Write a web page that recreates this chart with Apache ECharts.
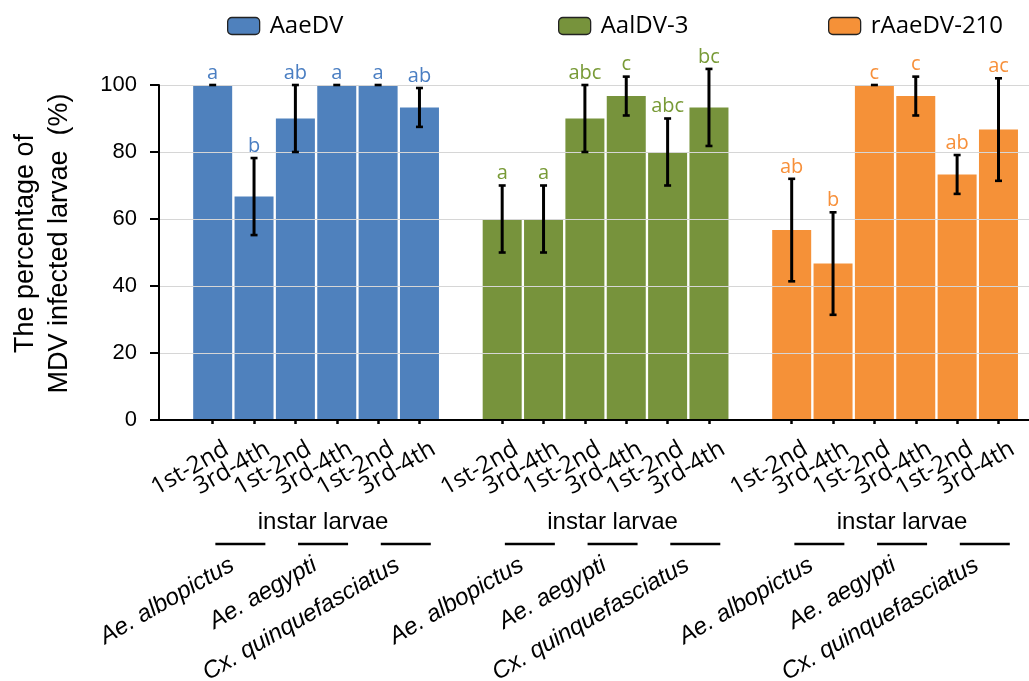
<!DOCTYPE html>
<html>
<head>
<meta charset="utf-8">
<script src="https://cdn.jsdelivr.net/npm/echarts@6/dist/echarts.min.js"></script>
<style>html,body{margin:0;padding:0;background:#fff;}#c{width:1029px;height:681px;}</style>
</head>
<body>
<div id="c"></div>
<script>
// ---- data ----
const seriesNames = ['AaeDV', 'AalDV-3', 'rAaeDV-210'];
const instars = ['1st-2nd', '3rd-4th'];
const species = ['Ae. albopictus', 'Ae. aegypti', 'Cx. quinquefasciatus'];
const groupNote = 'instar larvae';
const yTicks = [0, 20, 40, 60, 80, 100];

const aaeDV = [100, 66.7, 90, 100, 100, 93.3];
const aaeDVErr = [0, 11.5, 10, 0, 0, 5.8];
const aaeDVSig = ['a', 'b', 'ab', 'a', 'a', 'ab'];

const aalDV3 = [60, 60, 90, 96.7, 80, 93.3];
const aalDV3Err = [10, 10, 10, 5.8, 10, 11.5];
const aalDV3Sig = ['a', 'a', 'abc', 'c', 'abc', 'bc'];

const rAaeDV210 = [56.7, 46.7, 100, 96.7, 73.3, 86.7];
const rAaeDV210Err = [15.3, 15.3, 0, 5.8, 5.8, 15.3];
const rAaeDV210Sig = ['ab', 'b', 'c', 'c', 'ab', 'ac'];

const colors = ['#4F81BD', '#77933C', '#F59138'];
const sigColors = ['#4A7EC2', '#789A36', '#F7903A'];

// ---- build category slots (6 bars, blank, 6 bars, blank, 6 bars) ----
const xLabels = [];
for (let g = 0; g < 3; g++) {
  for (let s = 0; s < species.length; s++) for (let k = 0; k < instars.length; k++) xLabels.push(instars[k]);
  if (g < 2) xLabels.push('');
}
const slot = (g, k) => g * 7 + k;

const groups = [
  {vals: aaeDV, errs: aaeDVErr, sig: aaeDVSig},
  {vals: aalDV3, errs: aalDV3Err, sig: aalDV3Sig},
  {vals: rAaeDV210, errs: rAaeDV210Err, sig: rAaeDV210Sig}
];

const barSeries = groups.map((grp, g) => {
  const arr = xLabels.map(() => '-');
  grp.vals.forEach((v, k) => { arr[slot(g, k)] = v; });
  return {
    name: seriesNames[g], type: 'bar', xAxisIndex: 0, yAxisIndex: 0,
    barWidth: 39, barGap: '-100%', data: arr,
    itemStyle: {color: colors[g]}, z: 3
  };
});

const errSeries = groups.map((grp, g) => ({
  type: 'custom', xAxisIndex: 0, yAxisIndex: 0, z: 6, clip: false, silent: true,
  data: grp.vals.map((v, k) => [slot(g, k), v, grp.errs[k]]),
  encode: {x: 0, y: 1},
  renderItem: function (params, api) {
    const x = api.value(0), v = api.value(1), e = api.value(2);
    const t = api.coord([x, v + e]);
    const b = api.coord([x, v - e]);
    const cw = 3.5;
    const st = {stroke: '#000', lineWidth: 2.6};
    const ch = [];
    if (e > 0) {
      ch.push({type: 'line', shape: {x1: t[0], y1: t[1], x2: b[0], y2: b[1]}, style: {stroke: '#000', lineWidth: 3}});
      ch.push({type: 'line', shape: {x1: b[0] - cw, y1: b[1], x2: b[0] + cw, y2: b[1]}, style: st});
    }
    ch.push({type: 'line', shape: {x1: t[0] - cw, y1: t[1], x2: t[0] + cw, y2: t[1]}, style: st});
    ch.push({type: 'text', x: t[0], y: t[1] - 2,
      style: {text: grp.sig[params.dataIndex], fill: sigColors[g], font: '20px "Open Sans"', align: 'center', verticalAlign: 'bottom'}});
    return {type: 'group', children: ch};
  }
}));

// species annotation (under each pair of bars)
const speciesData = [];
for (let g = 0; g < 3; g++) for (let s = 0; s < species.length; s++) speciesData.push([slot(g, s * 2), s]);
const speciesSeries = {
  type: 'custom', xAxisIndex: 0, yAxisIndex: 0, clip: false, silent: true, z: 6,
  data: speciesData, encode: {x: 0},
  renderItem: function (params, api) {
    const i = api.value(0), s = api.value(1);
    const c1 = api.coord([i, 0]), c2 = api.coord([i + 1, 0]);
    const cx = (c1[0] + c2[0]) / 2, y0 = c1[1];
    return {type: 'group', children: [
      {type: 'line', shape: {x1: cx - 18, y1: y0 + 124, x2: cx + 32, y2: y0 + 124}, style: {stroke: '#000', lineWidth: 2.5}},
      {type: 'text', x: cx - 7, y: y0 + 133, rotation: Math.PI / 6,
        style: {text: species[s], fill: '#000', font: 'italic 24px "Liberation Sans", Arial', align: 'right', verticalAlign: 'top'}}
    ]};
  }
};
const noteSeries = {
  type: 'custom', xAxisIndex: 0, yAxisIndex: 0, clip: false, silent: true, z: 6,
  data: [[slot(0, 0)], [slot(1, 0)], [slot(2, 0)]], encode: {x: 0},
  renderItem: function (params, api) {
    const i = api.value(0);
    const c1 = api.coord([i, 0]), c2 = api.coord([i + 5, 0]);
    const cx = (c1[0] + c2[0]) / 2;
    return {type: 'text', x: cx + 7, y: c1[1] + 102,
      style: {text: groupNote, fill: '#000', font: '24px "Liberation Sans", Arial', align: 'center', verticalAlign: 'middle'}};
  }
};

const legendLefts = [222, 553, 823];
const legends = seriesNames.map((n, g) => ({
  data: [n], left: legendLefts[g], top: 9, selectedMode: false,
  icon: 'roundRect', itemWidth: 32, itemHeight: 17,
  itemStyle: {borderColor: '#222', borderWidth: 1.3},
  textStyle: {fontSize: 24, fontFamily: 'Open Sans', color: '#000', padding: [0, 0, 0, 5]}
}));

const chart = echarts.init(document.getElementById('c'), null, {renderer: 'canvas'});
chart.setOption({
  animation: false,
  backgroundColor: '#fff',
  legend: legends,
  grid: [
    {left: 192, right: 7, top: 85, bottom: 261},
    {left: 159, right: 0, top: 85, bottom: 261}
  ],
  xAxis: [
    {type: 'category', gridIndex: 0, data: xLabels,
      axisLine: {show: false},
      axisTick: {show: true, alignWithLabel: true, length: 4, interval: function (idx, val) { return val !== ''; }, lineStyle: {color: '#000', width: 2.5}},
      axisLabel: {interval: 0, rotate: 30, margin: 3, fontSize: 24, lineHeight: 56, verticalAlign: 'top', fontFamily: 'Open Sans', color: '#000'}
    },
    {type: 'category', gridIndex: 1, data: [''], z: 5,
      axisLine: {show: true, lineStyle: {color: '#000', width: 2}},
      axisTick: {show: false}, axisLabel: {show: false}}
  ],
  yAxis: [
    {type: 'value', gridIndex: 0, min: yTicks[0], max: yTicks[yTicks.length - 1], interval: 20, show: false},
    {type: 'value', gridIndex: 1, min: yTicks[0], max: yTicks[yTicks.length - 1], interval: 20, z: 5,
      name: 'The percentage of\nMDV infected larvae  (%)', nameLocation: 'middle', nameGap: 82, nameRotate: 90,
      nameTextStyle: {fontSize: 27, fontFamily: '"Liberation Sans", Arial', color: '#000', lineHeight: 34, padding: [0, 0, 0, 18]},
      axisLine: {show: true, lineStyle: {color: '#000', width: 2}},
      axisTick: {show: true, length: 9, lineStyle: {color: '#000', width: 2}},
      axisLabel: {fontSize: 22, fontFamily: '"Liberation Sans", Arial', color: '#000', margin: 22},
      splitLine: {show: true, lineStyle: {color: '#d6d6d6', width: 1.2}}
    }
  ],
  series: [].concat(barSeries, errSeries, [speciesSeries, noteSeries])
});
</script>
</body>
</html>
